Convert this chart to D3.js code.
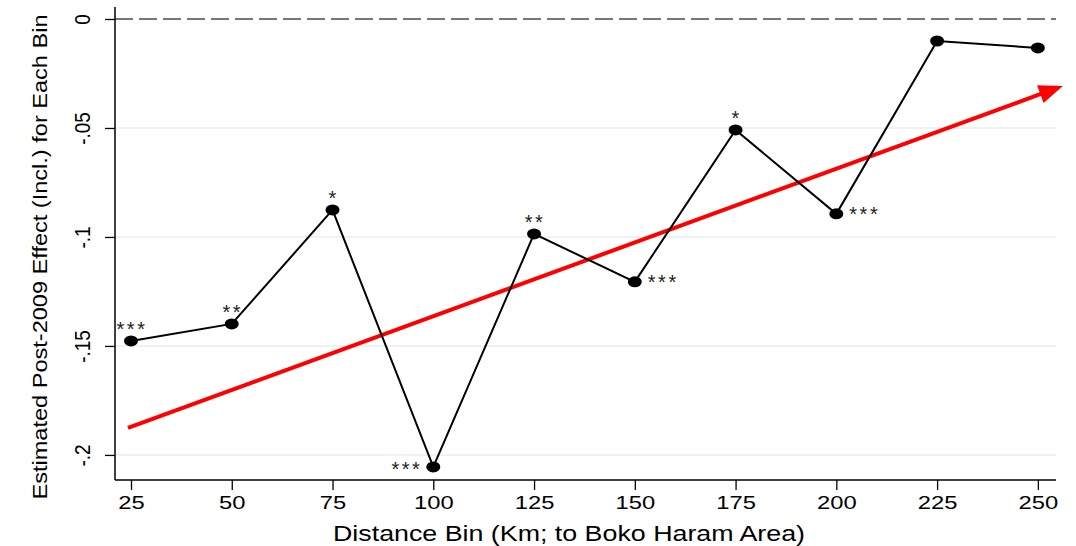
<!DOCTYPE html>
<html><head><meta charset="utf-8">
<script src="https://cdn.jsdelivr.net/npm/d3@7"></script>
<style>body{margin:0;background:#fff}svg{display:block}</style>
</head><body>
<svg id="c" width="1076" height="546"></svg>
<script>
const bins = [25, 50, 75, 100, 125, 150, 175, 200, 225, 250];
const effects = [-0.1477, -0.1399, -0.0876, -0.2055, -0.0986, -0.1206, -0.0509, -0.0894, -0.0101, -0.0133];
const stars = ["***", "**", "*", "***", "**", "***", "*", "***", "", ""];
const starPos = ["above", "above", "above", "left", "above", "right", "above", "right", "", ""];
const yTicks = [0, -0.05, -0.1, -0.15, -0.2];
const yTickLabels = ["0", "-.05", "-.1", "-.15", "-.2"];
const xTicks = [25, 50, 75, 100, 125, 150, 175, 200, 225, 250];
const arrowX = [24.25, 256.2];
const arrowY = [-0.1876, -0.0307];
const xTitle = "Distance Bin (Km; to Boko Haram Area)";
const yTitle = "Estimated Post-2009 Effect (Incl.) for Each Bin";

const svg = d3.select("#c");
const L = 115, R = 1056, T = 7, B = 480;
const x = d3.scaleLinear().domain([21.03, 254.5]).range([L, R]);
const y = d3.scaleLinear().domain([-0.2115, 0.0055]).range([B, T]);
const font = "Liberation Sans, Arial, sans-serif";

// gridlines
svg.append("g").selectAll("line").data(yTicks.filter(d => d !== 0)).join("line")
  .attr("x1", L).attr("x2", R).attr("y1", d => y(d)).attr("y2", d => y(d))
  .attr("stroke", "#e6eff1").attr("stroke-width", 1.5);

// zero dashed line
svg.append("line").attr("x1", L).attr("x2", R).attr("y1", y(0)).attr("y2", y(0))
  .attr("stroke", "#777").attr("stroke-width", 2).attr("stroke-dasharray", "18,6");

// axes
const yAxis = d3.axisLeft(y).tickValues(yTicks).tickFormat((d, i) => yTickLabels[i]).tickSize(10).tickPadding(6);
const gy = svg.append("g").attr("transform", `translate(${L},0)`).call(yAxis);
gy.select(".domain").attr("d", `M0,${T}V${B}`).attr("stroke", "#000").attr("stroke-width", 1.5);
gy.selectAll(".tick line").attr("stroke", "#000").attr("stroke-width", 1.3);
gy.selectAll(".tick text").attr("font-family", font).attr("font-size", 19).attr("fill", "#000")
  .attr("text-anchor", "middle").attr("x", 0).attr("dy", 0)
  .attr("transform", "translate(-25,0) rotate(-90) scale(1,1.2)");

const xAxis = d3.axisBottom(x).tickValues(xTicks).tickFormat(d3.format("d")).tickSize(10).tickPadding(5);
const gx = svg.append("g").attr("transform", `translate(0,${B})`).call(xAxis);
gx.select(".domain").attr("d", `M${L},0H${R}`).attr("stroke", "#000").attr("stroke-width", 1.5);
gx.selectAll(".tick line").attr("stroke", "#000").attr("stroke-width", 1.3);
gx.selectAll(".tick text").attr("font-family", font).attr("font-size", 19).attr("fill", "#000")
  .attr("transform", "translate(0,3) scale(1.25,1)").attr("y", 13).attr("dy", "0.71em").attr("x", 0);

// titles
svg.append("text").attr("x", 569).attr("y", 541).attr("text-anchor", "middle")
  .attr("font-family", font).attr("font-size", 22).attr("textLength", 472)
  .attr("lengthAdjust", "spacingAndGlyphs").text(xTitle);
svg.append("text").attr("transform", `translate(47,${257}) rotate(-90)`).attr("text-anchor", "middle")
  .attr("font-family", font).attr("font-size", 21).attr("textLength", 485)
  .attr("lengthAdjust", "spacingAndGlyphs").text(yTitle);

// arrow (line + head computed from scaled endpoints)
const ax0 = x(arrowX[0]), ay0 = y(arrowY[0]), ax1 = x(arrowX[1]), ay1 = y(arrowY[1]);
const ang = Math.atan2(ay1 - ay0, ax1 - ax0);
const hl = 24, hw = 9.5;
const bx = ax1 - hl * Math.cos(ang), by = ay1 - hl * Math.sin(ang);
svg.append("line").attr("x1", ax0).attr("y1", ay0).attr("x2", bx + 2 * Math.cos(ang)).attr("y2", by + 2 * Math.sin(ang))
  .attr("stroke", "#ff0000").attr("stroke-width", 4);
svg.append("path").attr("fill", "#ff0000")
  .attr("d", `M${ax1},${ay1}L${bx - hw * Math.sin(ang)},${by + hw * Math.cos(ang)}L${bx + hw * Math.sin(ang)},${by - hw * Math.cos(ang)}Z`);

// series line
const data = bins.map((b, i) => ({b, v: effects[i], s: stars[i], p: starPos[i]}));
svg.append("path").datum(data).attr("fill", "none").attr("stroke", "#000").attr("stroke-width", 2)
  .attr("d", d3.line().x(d => x(d.b)).y(d => y(d.v)));
svg.append("g").selectAll("ellipse").data(data).join("ellipse")
  .attr("cx", d => x(d.b)).attr("cy", d => y(d.v)).attr("rx", 7).attr("ry", 5.5).attr("fill", "#000");

// stars
svg.append("g").selectAll("text").data(data.filter(d => d.s)).join("text")
  .attr("font-family", font).attr("font-size", 20).attr("fill", "#222").attr("letter-spacing", 2.5)
  .attr("x", d => d.p === "left" ? x(d.b) - 11 : d.p === "right" ? x(d.b) + 13 : x(d.b) + 1)
  .attr("y", d => d.p === "above" ? y(d.v) - 4.5 : d.p === "left" ? y(d.v) + 9.5 : y(d.v) + 7.5)
  .attr("text-anchor", d => d.p === "left" ? "end" : d.p === "right" ? "start" : "middle")
  .text(d => d.s);
</script>
</body></html>
